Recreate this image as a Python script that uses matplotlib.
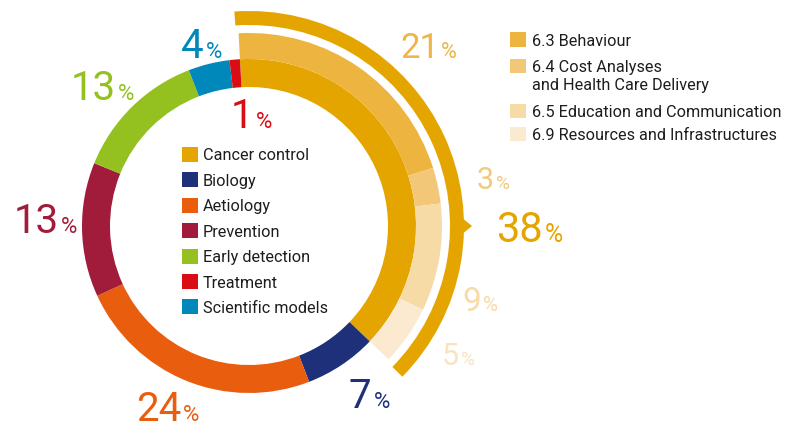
import numpy as np
import matplotlib.pyplot as plt
from matplotlib.patches import Wedge, Rectangle, Polygon

plt.rcParams['font.family'] = ['Roboto', 'DejaVu Sans']

# main ring, clockwise from the top
topics = ['Cancer control', 'Biology', 'Aetiology', 'Prevention',
          'Early detection', 'Scientific models', 'Treatment']
shares = [38, 7, 24, 13, 13, 4, 1]
topic_colors = ['#E5A500', '#1D3079', '#E95D0F', '#A11B3B',
                '#94C11F', '#0088BB', '#DA0D15']
legend_order = ['Cancer control', 'Biology', 'Aetiology', 'Prevention',
                'Early detection', 'Treatment', 'Scientific models']

# breakdown of cancer control
sub_topics = ['6.3 Behaviour', '6.4 Cost Analyses\nand Health Care Delivery',
              '6.5 Education and Communication', '6.9 Resources and Infrastructures']
sub_shares = [21, 3, 9, 5]
sub_colors = ['#EDB540', '#F2C878', '#F7DBA6', '#FBEAD0']
sub_label_colors = ['#EDB64A', '#F2CA7E', '#F7DBA8', '#F9E3C0']
cc_total = 38

# layout (pixel units, y down)
cx, cy = 249, 226
r_in, r_out, r_sub = 139, 167, 193
r_br_in, r_br_out = 201, 215
start = -3.1
deg = 3.6

main_label_xy = [None, (349, 408), (136, 421), (14, 233), (71, 100), (181, 58), (231, 128)]
sub_label_xy = [(400, 58), (477, 189), (462, 311), (442, 365)]
sub_label_size = [25, 22, 24, 22]

fig = plt.figure(figsize=(7.9, 4.25), dpi=100)
ax = fig.add_axes([0, 0, 1, 1])
ax.set_xlim(0, 790)
ax.set_ylim(425, 0)
ax.axis('off')

# wedge angle in data coords (y down): clockwise-from-top a -> a - 90
edges = start + deg * np.concatenate([[0], np.cumsum(shares)])
for i, c in enumerate(topic_colors):
    ax.add_patch(Wedge((cx, cy), r_out, edges[i] - 90, edges[i + 1] - 90,
                       width=r_out - r_in, facecolor=c, edgecolor='none'))

sub_edges = start + deg * np.concatenate([[0], np.cumsum(sub_shares)])
for i, c in enumerate(sub_colors):
    ax.add_patch(Wedge((cx, cy), r_sub, sub_edges[i] - 90, sub_edges[i + 1] - 90,
                       width=r_sub - r_out, facecolor=c, edgecolor='none'))

# bracket around cancer control with a pointer to the total
cc_end = start + deg * cc_total
ax.add_patch(Wedge((cx, cy), r_br_out, start - 0.8 - 90, cc_end + 0.8 - 90,
                   width=r_br_out - r_br_in, facecolor='#E5A500', edgecolor='none'))
a = 0.0  # pointer direction (data theta, pointing right)
def pol(r, t):
    return (cx + r * np.cos(np.radians(t)), cy + r * np.sin(np.radians(t)))
ax.add_patch(Polygon([pol(r_br_out - 1, a - 2.0), pol(r_br_out + 8, a), pol(r_br_out - 1, a + 2.0)],
                     closed=True, facecolor='#E5A500', edgecolor='none'))

fig.canvas.draw()
renderer = fig.canvas.get_renderer()

def pct_label(x, y, value, color, size, psize):
    t = ax.text(x, y, str(value), fontsize=size, color=color, ha='left', va='baseline')
    w = t.get_window_extent(renderer).width * 72 / fig.dpi
    ax.annotate('%', xy=(x, y), xytext=(w + 1.5, 0), textcoords='offset points',
                fontsize=psize, color=color, ha='left', va='baseline')

for i, v in enumerate(shares):
    if main_label_xy[i] is None:
        continue
    x, y = main_label_xy[i]
    pct_label(x, y, v, topic_colors[i], 29, 16)

for i, v in enumerate(sub_shares):
    x, y = sub_label_xy[i]
    pct_label(x, y, v, sub_label_colors[i], sub_label_size[i], sub_label_size[i] * 0.62)

pct_label(496, 242, cc_total, '#E5A500', 30, 18)

# legend for the ring
for i, name in enumerate(legend_order):
    y = 154.5 + i * 25.4
    ax.add_patch(Rectangle((182, y - 7.5), 16, 15, facecolor=topic_colors[topics.index(name)],
                           edgecolor='none'))
    ax.text(203, y + 6, name, fontsize=11.7, color='#1D1D1B', ha='left', va='baseline')

# legend for the breakdown
sub_rows = [39.5, 65.8, 111, 134]
for i, name in enumerate(sub_topics):
    y = sub_rows[i]
    ax.add_patch(Rectangle((510, y - 7.3), 16, 14.6, facecolor=sub_colors[i], edgecolor='none'))
    for k, line in enumerate(name.split('\n')):
        ax.text(532, y + 6 + k * 18.3, line, fontsize=11.7, color='#1D1D1B',
                ha='left', va='baseline')

fig.savefig('out.png', dpi=100)
